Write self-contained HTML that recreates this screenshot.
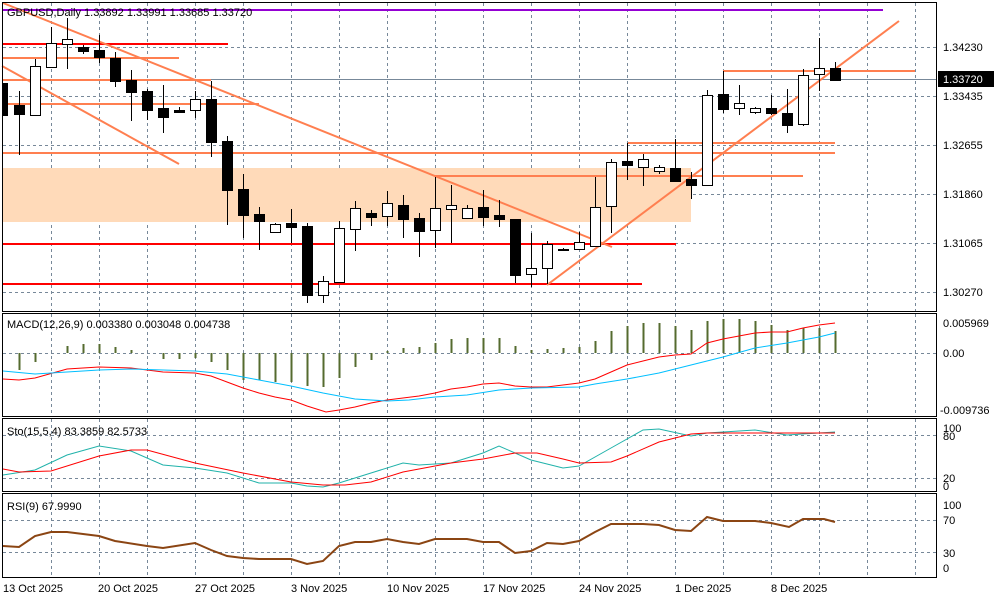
<!DOCTYPE html>
<html><head><meta charset="utf-8"><style>
html,body{margin:0;padding:0;background:#fff;width:1000px;height:600px;overflow:hidden}
svg{display:block}
text{font-family:"Liberation Sans",sans-serif;font-size:11px;fill:#000}
</style></head><body>
<svg id="s" width="1000" height="600" viewBox="0 0 1000 600" shape-rendering="crispEdges">
<g id="grid" stroke="#778899" stroke-width="1" stroke-dasharray="3,3" fill="none"></g>
<rect x="2" y="168" width="689" height="54" fill="#FFDAB9"/>
<line x1="2" y1="79.5" x2="937" y2="79.5" stroke="#778899"/>
<g id="lines" fill="none" shape-rendering="auto">
<line x1="2" y1="10" x2="883" y2="10" stroke="#9400D3" stroke-width="2"/>
<line x1="2" y1="44" x2="228" y2="44" stroke="#FF0000" stroke-width="2"/>
<line x1="2" y1="244" x2="676" y2="244" stroke="#FF0000" stroke-width="2"/>
<line x1="2" y1="284" x2="642" y2="284" stroke="#FF0000" stroke-width="2"/>
<line x1="2" y1="58" x2="179" y2="58" stroke="#FF7F50" stroke-width="2"/>
<line x1="2" y1="80" x2="211" y2="80" stroke="#FF7F50" stroke-width="2"/>
<line x1="2" y1="104" x2="259" y2="104" stroke="#FF7F50" stroke-width="2"/>
<line x1="2" y1="153" x2="835" y2="153" stroke="#FF7F50" stroke-width="2"/>
<line x1="628" y1="143" x2="835" y2="143" stroke="#FF7F50" stroke-width="2"/>
<line x1="435" y1="176" x2="803" y2="176" stroke="#FF7F50" stroke-width="2"/>
<line x1="723" y1="71" x2="915" y2="71" stroke="#FF7F50" stroke-width="2"/>
<line x1="3" y1="3" x2="612" y2="247" stroke="#FF7F50" stroke-width="2"/>
<line x1="2" y1="66" x2="179" y2="164" stroke="#FF7F50" stroke-width="2"/>
<line x1="547" y1="285" x2="899" y2="21" stroke="#FF7F50" stroke-width="2"/>
</g>
<g id="candles"></g>
<text x="7" y="16">GBPUSD,Daily  1.33892 1.33991 1.33685 1.33720</text>
<!-- panel frames -->
<g fill="none" stroke="#000" stroke-width="1">
<rect x="2.5" y="2.5" width="934" height="309"/>
<rect x="2.5" y="313.5" width="934" height="103"/>
<rect x="2.5" y="418.5" width="934" height="73"/>
<rect x="2.5" y="493.5" width="934" height="84"/>
</g>
<!-- price axis -->
<g>
<text x="943" y="51">1.34230</text>
<text x="943" y="100">1.33435</text>
<text x="943" y="149">1.32655</text>
<text x="943" y="198">1.31860</text>
<text x="943" y="247">1.31065</text>
<text x="943" y="296">1.30270</text>
<rect x="938" y="71" width="56" height="16" fill="#000"/>
<text x="943" y="83" style="fill:#fff">1.33720</text>
<text x="943" y="327">0.005969</text>
<text x="943" y="357">0.00</text>
<text x="940" y="414">-0.009736</text>
<text x="943" y="432">100</text>
<text x="943" y="440">80</text>
<text x="943" y="482">20</text>
<text x="943" y="490">0</text>
<text x="943" y="509">100</text>
<text x="943" y="524">70</text>
<text x="943" y="557">30</text>
<text x="943" y="572">0</text>
</g>
<text x="7" y="328">MACD(12,26,9) 0.003380 0.003048 0.004738</text>
<text x="7" y="435">Sto(15,5,4) 83.3859 82.5733</text>
<text x="7" y="510">RSI(9) 67.9990</text>
<g>
<text x="3" y="592">13 Oct 2025</text>
<text x="98" y="592">20 Oct 2025</text>
<text x="195" y="592">27 Oct 2025</text>
<text x="291" y="592">3 Nov 2025</text>
<text x="387" y="592">10 Nov 2025</text>
<text x="483" y="592">17 Nov 2025</text>
<text x="579" y="592">24 Nov 2025</text>
<text x="675" y="592">1 Dec 2025</text>
<text x="771" y="592">8 Dec 2025</text>
</g>
<g id="hist" stroke="#556B2F" stroke-width="2"></g>
<g fill="none" shape-rendering="auto">
<polyline stroke="#FF0000" stroke-width="1" points="3,379 19,380 35,378 67,369 99,367 131,368 163,372 195,373 211,376 227,382 243,388 259,393 275,397 291,400 307,406 326,412 339,410 355,407 371,403 387,400 403,398 419,396 435,393 451,389 467,387 483,384 499,383 515,386 531,387 547,387 563,385 579,383 595,379 611,372 627,365 643,361 659,357 675,355 691,354 707,343 723,339 739,336 755,333 771,332 787,332 803,328 819,325 835,323"/>
<polyline stroke="#00BFFF" stroke-width="1" points="3,371 35,374 67,372 99,370 131,369 163,370 195,371 227,374 259,380 291,386 323,393 355,399 387,401 409,400 435,397 467,395 499,390 531,388 579,387 595,384 627,379 659,373 691,365 723,357 755,348 787,343 819,337 835,333"/>
<polyline stroke="#20B2AA" stroke-width="1" points="3,475 35,470 67,455 99,446 131,451 163,465 195,468 227,473 259,483 291,483 307,486 323,487 339,483 371,473 403,463 419,465 451,463 483,453 499,446 531,460 563,468 579,466 611,448 643,430 659,429 691,436 707,433 755,430 787,435 819,433 835,432"/>
<polyline stroke="#FF0000" stroke-width="1" points="3,469 19,472 51,471 99,456 131,450 147,450 195,463 243,473 291,482 323,485 345,485 371,482 403,472 451,463 483,459 515,453 537,453 563,459 579,463 611,462 627,456 659,442 691,434 707,433 835,433"/>
<polyline stroke="#8B4513" stroke-width="2" points="3,546 19,547 35,536 51,532 67,532 99,536 115,541 147,546 163,548 195,543 211,550 227,556 243,558 259,559 291,559 307,564 323,561 339,546 355,542 371,542 387,539 403,542 419,544 435,539 467,539 483,542 499,542 515,553 531,551 547,543 563,544 579,541 595,532 611,524 643,524 659,525 675,530 691,531 707,517 723,521 755,521 771,523 789,527 803,519 824,519 835,522"/>
</g>
</svg>
<script>
var NS="http://www.w3.org/2000/svg";
function el(p,t,a){var e=document.createElementNS(NS,t);for(var k in a)e.setAttribute(k,a[k]);p.appendChild(e);return e;}
var g=document.getElementById('grid');
for(var x=51;x<=915;x+=48){el(g,'line',{x1:x+.5,y1:3,x2:x+.5,y2:311});el(g,'line',{x1:x+.5,y1:314,x2:x+.5,y2:416});el(g,'line',{x1:x+.5,y1:419,x2:x+.5,y2:491});el(g,'line',{x1:x+.5,y1:494,x2:x+.5,y2:577});}
[47,96,145,194,243,292].forEach(function(y){el(g,'line',{x1:3,y1:y+.5,x2:937,y2:y+.5});});
[353].forEach(function(y){el(g,'line',{x1:3,y1:y+.5,x2:937,y2:y+.5});});
[435,478,520,552].forEach(function(y){el(g,'line',{x1:3,y1:y+.5,x2:937,y2:y+.5});});
var C=[[3,83,116,83,115,1],[19,91,155,105,114,1],[35,59,116,66,115,0],[51,27,67,43,67,0],[67,18,69,39,44,0],[83,45,54,47,51,1],[99,35,63,50,57,1],[115,52,87,58,81,1],[131,70,121,80,92,1],[147,89,120,91,110,1],[163,85,133,108,117,1],[179,107,113,110,112,1],[195,91,118,99,110,0],[211,81,157,99,142,1],[227,136,225,141,190,1],[243,174,238,189,215,1],[259,207,250,214,221,1],[275,223,232,224,232,0],[291,209,243,223,227,1],[307,223,303,226,295,1],[323,276,303,281,295,0],[339,221,282,228,282,0],[355,201,251,208,229,0],[371,210,226,213,217,1],[387,191,226,203,216,0],[403,195,238,205,219,1],[419,213,257,218,231,1],[435,177,248,208,230,0],[451,185,243,205,209,0],[467,205,218,208,218,0],[483,190,226,207,217,1],[499,200,227,215,219,1],[515,219,283,219,275,1],[531,233,287,268,274,0],[547,241,284,244,268,0],[563,248,250,249,250,1],[579,232,250,242,249,0],[595,177,247,207,246,0],[611,159,233,162,206,0],[627,143,180,161,165,1],[643,154,186,159,167,0],[659,165,174,167,171,0],[675,139,181,168,181,1],[691,172,199,179,185,1],[707,90,185,95,185,0],[723,71,113,94,109,1],[739,85,115,103,108,0],[755,107,114,108,112,0],[771,95,115,108,113,1],[787,89,133,113,125,1],[803,69,126,75,124,0],[819,38,91,68,74,0],[835,62,81,68,80,1]];
var cg=document.getElementById('candles');
C.forEach(function(c){var x=c[0];
el(cg,'line',{x1:x+.5,y1:c[1],x2:x+.5,y2:c[2],stroke:'#000'});
var h=Math.max(1,c[4]-c[3]);
el(cg,'rect',{x:Math.max(2.5,x-4.5),y:c[3]+.5,width:(x<8?x+2:10),height:h,fill:c[5]?'#000':'#fff',stroke:'#000'});});
var H=[[19,370],[35,362],[67,346],[83,344],[99,344],[115,347],[131,350],[163,359],[179,359],[195,358],[211,362],[227,370],[243,380],[259,380],[275,382],[291,382],[307,386],[323,387],[339,378],[355,367],[371,360],[387,351],[403,348],[419,347],[435,343],[451,339],[467,338],[483,338],[499,338],[515,346],[531,350],[547,349],[563,348],[579,347],[595,341],[611,331],[627,326],[643,323],[659,323],[675,326],[691,330],[707,321],[723,319],[739,319],[755,321],[771,325],[787,330],[803,328],[819,328],[835,331]];
var hg=document.getElementById('hist');
H.forEach(function(h){el(hg,'line',{x1:h[0]+.5,y1:353,x2:h[0]+.5,y2:h[1]});});
</script>
</body></html>
